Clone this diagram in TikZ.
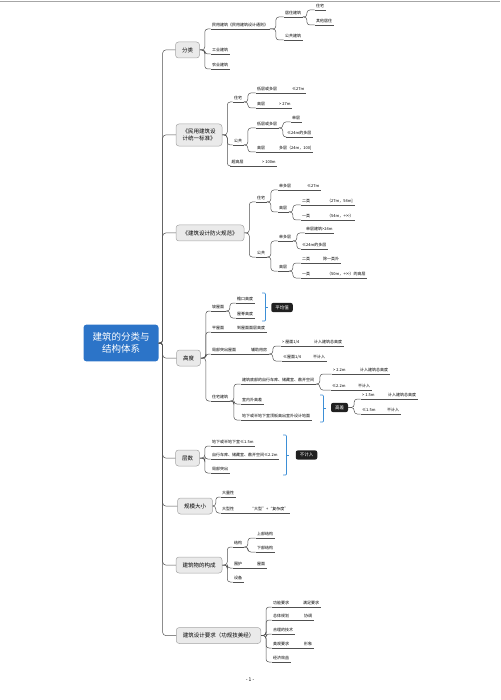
\documentclass[tikz,border=0pt]{standalone}
\usepackage{fontspec}
\setmainfont{Noto Sans CJK SC}
\definecolor{linegray}{RGB}{80,80,80}
\definecolor{boxfill}{RGB}{234,234,234}
\definecolor{boxline}{RGB}{165,165,165}
\definecolor{rootblue}{RGB}{44,116,200}
\definecolor{sumblue}{RGB}{61,143,214}
\definecolor{sumdark}{RGB}{32,32,32}
\tikzset{
  ln/.style={draw=linegray, line width=0.5pt, rounded corners=3pt},
  leaf/.style={anchor=south west, inner xsep=1.5pt, inner ysep=2pt, font=\fontsize{4}{5}\selectfont,
    append after command={(\tikzlastnode.south west) edge[ln] (\tikzlastnode.south east)}},
  topic/.style={draw=boxline, fill=boxfill, rounded corners=3pt, line width=0.5pt, minimum height=16pt,
    inner xsep=6.5pt, inner ysep=3pt, font=\fontsize{5.5}{7}\selectfont, align=center},
  rootbox/.style={fill=rootblue, text=white, rounded corners=3pt, inner xsep=9pt, inner ysep=8pt,
    font=\fontsize{9.5}{12}\selectfont, align=center},
  summ/.style={fill=sumdark, text=white, rounded corners=2pt, inner xsep=4pt, inner ysep=2.5pt,
    font=\fontsize{4.5}{5}\selectfont},
  brk/.style={draw=sumblue, line width=0.7pt, rounded corners=1pt},
}
% elbow from a parent to one of its children
\newcommand{\tie}[3][4]{\draw[ln] (#2) -- ++(#1,0) |- (#3.south west);}
% straight run on to a single child
\newcommand{\run}[2]{\draw[ln] (#1.south east) -- (#2.south west);}

\begin{document}
\begin{tikzpicture}[x=1pt,y=1pt,yscale=-1,xscale=1]
\useasboundingbox (0,0) rectangle (500,700);
%page head line
\draw [black!35, line width=0.6pt] (0,1.5) -- (500,1.5);

% Root Node
\node[rootbox] (root) at (121,343) {建筑的分类与\\结构体系};

% Topic Nodes
\node[topic] (fl) at (187.5,50) {分类};
\node[topic, inner ysep=5pt] (ms) at (199,135) {《民用建筑设\\计统一标准》};
\node[topic] (fh) at (210,233) {《建筑设计防火规范》};
\node[topic] (gd) at (188.5,358) {高度};
\node[topic] (cs) at (187.5,458) {层数};
\node[topic] (gm) at (195,506) {规模大小};
\node[topic] (gc) at (199,565) {建筑物的构成};
\node[topic] (yq) at (218.5,635.5) {建筑设计要求（功规技美经）};

%Trunk
\draw[ln] (root.east) -- ++(4,0) |- (fl.west);
\draw[ln] (root.east) -- ++(4,0) |- (ms.west);
\draw[ln] (root.east) -- ++(4,0) |- (fh.west);
\draw[ln] (root.east) -- ++(4,0) |- (gd.west);
\draw[ln] (root.east) -- ++(4,0) |- (cs.west);
\draw[ln] (root.east) -- ++(4,0) |- (gm.west);
\draw[ln] (root.east) -- ++(4,0) |- (gc.west);
\draw[ln] (root.east) -- ++(4,0) |- (yq.west);

%---------------- 分类
\node[leaf] (mj) at (210.5,29) {民用建筑《民用建筑设计通则》};
\node[leaf] (gy) at (210.5,54) {工业建筑};
\node[leaf] (ny) at (210.5,69) {农业建筑};
\node[leaf] (jz) at (283.5,17) {居住建筑};
\node[leaf] (gg) at (283.5,40) {公共建筑};
\node[leaf] (zz) at (314.5,10) {住宅};
\node[leaf] (qt) at (314.5,25) {其他居住};
\tie[5]{fl.east}{mj} \tie[5]{fl.east}{gy} \tie[5]{fl.east}{ny}
\tie[6]{mj.south east}{jz} \tie[6]{mj.south east}{gg}
\tie{jz.south east}{zz} \tie{jz.south east}{qt}

%---------------- 民用建筑设计统一标准
\node[leaf] (zzb) at (232.5,102) {住宅};
\node[leaf] (ggb) at (232.5,145) {公共};
\node[leaf] (cgc) at (230,166) {超高层};
\node[leaf] (ddca) at (255.5,93) {低层或多层};
\node[leaf] (lea) at (290.5,93) {≤27m};
\node[leaf] (gca) at (255.5,108) {高层};
\node[leaf] (gta) at (277.5,108) {> 27m};
\node[leaf] (ddcb) at (255.5,128) {低层或多层};
\node[leaf] (dcb) at (290.5,122) {单层};
\node[leaf] (leb) at (285.5,137) {≤24m的多层};
\node[leaf] (gcb) at (255.5,152) {高层};
\node[leaf] (dcc) at (277.5,152) {多层（24m，100]};
\node[leaf] (gtc) at (260.5,166) {> 100m};
\tie[5]{ms.east}{zzb} \tie[5]{ms.east}{ggb} \tie[5]{ms.east}{cgc}
\tie{zzb.south east}{ddca} \tie{zzb.south east}{gca}
\run{ddca}{lea} \run{gca}{gta}
\tie{ggb.south east}{ddcb} \tie{ggb.south east}{gcb}
\tie{ddcb.south east}{dcb} \tie{ddcb.south east}{leb}
\run{gcb}{dcc} \run{cgc}{gtc}

%---------------- 建筑设计防火规范
\node[leaf] (zzc) at (255.5,202) {住宅};
\node[leaf] (ggc) at (255.5,257) {公共};
\node[leaf] (ddcc) at (277.5,190) {单多层};
\node[leaf] (lec) at (305.5,190) {≤27m};
\node[leaf] (gcc) at (277.5,212) {高层};
\node[leaf] (ela) at (300.5,205) {二类};
\node[leaf] (ra) at (325.5,205) {（27m，54m]};
\node[leaf] (yla) at (300.5,220) {一类};
\node[leaf] (rb) at (325.5,220) {（54m，+∞）};
\node[leaf] (ddcd) at (277.5,241) {单多层};
\node[leaf] (dcd) at (304.5,233) {单层建筑>24m};
\node[leaf] (led) at (300.5,249) {≤24m的多层};
\node[leaf] (gcd) at (277.5,271) {高层};
\node[leaf] (elb) at (300.5,263) {二类};
\node[leaf] (cyl) at (321.5,263) {除一类外};
\node[leaf] (ylb) at (300.5,278) {一类};
\node[leaf] (rc) at (325.5,278) {（50m，+∞）的高层};
\tie[5]{fh.east}{zzc} \tie[5]{fh.east}{ggc}
\tie{zzc.south east}{ddcc} \tie{zzc.south east}{gcc}
\run{ddcc}{lec}
\tie{gcc.south east}{ela} \tie{gcc.south east}{yla}
\run{ela}{ra} \run{yla}{rb}
\tie{ggc.south east}{ddcd} \tie{ggc.south east}{gcd}
\tie{ddcd.south east}{dcd} \tie{ddcd.south east}{led}
\tie{gcd.south east}{elb} \tie{gcd.south east}{ylb}
\run{elb}{cyl} \run{ylb}{rc}

%---------------- 高度
\node[leaf] (pwm) at (210.5,311) {坡屋面};
\node[leaf] (yk) at (235.5,303) {檐口高度};
\node[leaf] (wj) at (235.5,318) {屋脊高度};
\node[leaf] (pmw) at (210.5,332) {平屋面};
\node[leaf] (mc) at (235.5,332) {到屋面面层高度};
\node[leaf] (jbtc) at (210.5,354) {局部突出屋面};
\node[leaf] (fz) at (249.5,354) {辅助用房};
\node[leaf] (gtd) at (280.5,346) {> 屋面1/4};
\node[leaf] (jra) at (312.5,346) {计入建筑总高度};
\node[leaf] (led2) at (281.5,361) {≤屋面1/4};
\node[leaf] (bja) at (311.5,361) {不计入};
\node[leaf] (zzjz) at (210.5,401) {住宅建筑};
\node[leaf] (zxc) at (240.5,384) {建筑底部的自行车库、储藏室、敞开空间};
\node[leaf] (gte) at (331.5,374) {> 2.2m};
\node[leaf] (jrb) at (358.5,374) {计入建筑总高度};
\node[leaf] (lee) at (330.5,390) {≤2.2m};
\node[leaf] (bjb) at (356.5,390) {不计入};
\node[leaf] (snw) at (240.5,404) {室内外高差};
\node[leaf] (dxs) at (240.5,420) {地下或半地下室顶板高出室外设计地面};
\node[leaf] (gtf) at (360.5,399) {> 1.5m};
\node[leaf] (jrc) at (386.5,399) {计入建筑总高度};
\node[leaf] (lef) at (360.5,414) {≤1.5m};
\node[leaf] (bjc) at (385.5,414) {不计入};
% Summary Nodes
\node[summ] (pjz) at (282,307.5) {平均值};
\node[summ] (gcz) at (339.5,407.5) {高差};
\tie[5]{gd.east}{pwm} \tie[5]{gd.east}{pmw} \tie[5]{gd.east}{jbtc} \tie[5]{gd.east}{zzjz}
\tie{pwm.south east}{yk} \tie{pwm.south east}{wj}
\run{pmw}{mc} \run{jbtc}{fz}
\tie{fz.south east}{gtd} \tie{fz.south east}{led2}
\run{gtd}{jra} \run{led2}{bja}
\tie{zzjz.south east}{zxc} \tie{zzjz.south east}{snw} \tie{zzjz.south east}{dxs}
\tie{zxc.south east}{gte} \tie{zxc.south east}{lee}
\run{gte}{jrb} \run{lee}{bjb}
\tie[6]{gcz.east}{gtf} \tie[6]{gcz.east}{lef}
\run{gtf}{jrc} \run{lef}{bjc}
%brackets
\draw[brk] (262,293) -- (265.5,293) -- (265.5,321) -- (262,321);
\draw[brk] (265.5,307) -- (268,307);
\draw[brk] (320,395) -- (323.5,395) -- (323.5,422) -- (320,422);
\draw[brk] (323.5,408) -- (326,408);

%---------------- 层数
\node[leaf] (dxsa) at (210.5,446) {地下或半地下室≤1.5m};
\node[leaf] (zxca) at (210.5,459) {自行车库、储藏室、敞开空间≤2.2m};
\node[leaf] (jbtca) at (210.5,473) {局部突出};
\node[summ] (bjz) at (306.5,455) {不计入};
\tie[5]{cs.east}{dxsa} \tie[5]{cs.east}{zxca} \tie[5]{cs.east}{jbtca}
\draw[brk] (283,435) -- (286.5,435) -- (286.5,475) -- (283,475);
\draw[brk] (286.5,455) -- (289,455);

%---------------- 规模大小
\node[leaf] (dlx) at (220.5,497) {大量性};
\node[leaf] (dxx) at (220.5,513) {大型性};
\node[leaf] (dfz) at (248.5,513) {“大型”+“复杂度”};
\tie[3]{gm.east}{dlx} \tie[3]{gm.east}{dxx}
\run{dxx}{dfz}

%---------------- 建筑物的构成
\node[leaf] (jg) at (232.5,547) {结构};
\node[leaf] (sb) at (255.5,538) {上部结构};
\node[leaf] (xb) at (255.5,552) {下部结构};
\node[leaf] (wh) at (232.5,568) {围护};
\node[leaf] (wm) at (255.5,568) {屋面};
\node[leaf] (sbei) at (232.5,582) {设备};
\tie[5]{gc.east}{jg} \tie[5]{gc.east}{wh} \tie[5]{gc.east}{sbei}
\tie{jg.south east}{sb} \tie{jg.south east}{xb}
\run{wh}{wm}

%---------------- 建筑设计要求
\node[leaf] (gn) at (271.5,607) {功能要求};
\node[leaf] (mz) at (301.5,607) {满足要求};
\node[leaf] (zt) at (271.5,620) {总体规划};
\node[leaf] (xt) at (302.5,620) {协调};
\node[leaf] (hl) at (271.5,634) {合理的技术};
\node[leaf] (mg) at (271.5,648) {美观要求};
\node[leaf] (xx) at (302.5,648) {形象};
\node[leaf] (jj) at (271.5,662) {经济效益};
\tie[5]{yq.east}{gn} \tie[5]{yq.east}{zt} \tie[5]{yq.east}{hl} \tie[5]{yq.east}{mg} \tie[5]{yq.east}{jj}
\run{gn}{mz} \run{zt}{xt} \run{mg}{xx}

% Text Node
\node[font=\fontsize{5}{6}\selectfont] (pg) at (250,680) {- 1 -};
\end{tikzpicture}
\end{document}
